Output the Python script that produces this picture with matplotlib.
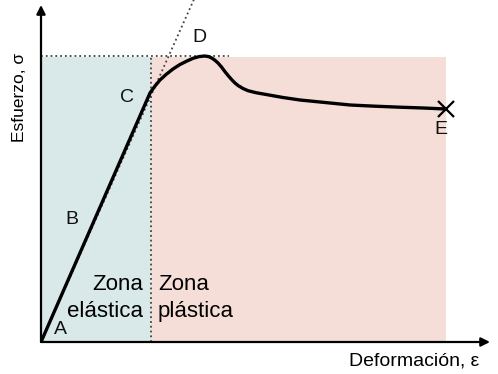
import matplotlib
matplotlib.use("Agg")
import matplotlib.pyplot as plt

plt.rcParams['font.family'] = ['Liberation Sans', 'DejaVu Sans']

# Stress-strain curve (arbitrary units)
strain = [0, 109, 114, 119, 125, 132, 139, 146, 152, 158, 164, 168, 171, 174, 177, 180.5,
          184, 187.5, 191, 194, 197, 202, 207, 215, 224, 242, 259, 284, 309, 334, 359, 382, 405]
stress = [0, 249, 256, 262, 267.5, 273, 277.5, 281, 283.7, 285.4, 286, 285.3, 283.8, 281.7,
          279, 275, 270.3, 266, 262, 259, 256.5, 253.5, 251.3, 249.3, 247.7, 244.5, 242,
          239.5, 237, 235.8, 234.8, 234, 233]

rupture = (405, 233)      # E
peak_stress = 286
elastic_limit = 110
plastic_end = 405
region_top = 285
elastic_slope = 2.24

label_pts = {"A": (19, 12), "B": (31, 122), "C": (86, 245), "D": (158, 304), "E": (400, 212)}

W, H = 498, 374
fig = plt.figure(figsize=(W / 100, H / 100), dpi=100)
ax = fig.add_axes([41 / W, (H - 342) / H, (490 - 41) / W, (342 - 5) / H])
ax.set_xlim(0, 449)
ax.set_ylim(0, 337)
for s in ax.spines.values():
    s.set_visible(False)
ax.set_xticks([])
ax.set_yticks([])

# regions
ax.fill_between([0, elastic_limit], 0, region_top, color='#d9e8e8', lw=0, zorder=0)
ax.fill_between([elastic_limit, plastic_end], 0, region_top, color='#f5ddd8', lw=0, zorder=0)

# dotted guides
ax.plot([0, 188], [peak_stress, peak_stress], ls=':', color='#444444', lw=1.3, zorder=1)
ax.plot([elastic_limit, elastic_limit], [0, peak_stress], ls=':', color='#444444', lw=1.3, zorder=1)
ax.plot([0, 345 / elastic_slope], [0, 345], ls=':', color='#444444', lw=1.3, zorder=1, clip_on=False)

# curve
ax.plot(strain, stress, color='black', lw=2.4, solid_capstyle='round',
        solid_joinstyle='round', zorder=3)
ax.plot([rupture[0]], [rupture[1]], marker='x', color='black', ms=12, mew=1.6, zorder=4)

# axes arrows
arrow = dict(arrowstyle='-|>', color='black', lw=1.6, mutation_scale=13, shrinkA=0, shrinkB=0)
ax.annotate('', xy=(449, 0), xytext=(0, 0), arrowprops=arrow, annotation_clip=False)
ax.annotate('', xy=(0, 337), xytext=(0, 0), arrowprops=arrow, annotation_clip=False)

for k, (x, y) in label_pts.items():
    ax.text(x, y, k, fontsize=14, ha='center', va='center', color='#111111')

ax.text(102, 52, "Zona", fontsize=16, ha='right', va='baseline')
ax.text(102, 25, "elástica", fontsize=16, ha='right', va='baseline')
ax.text(117, 52, "Zona", fontsize=16, ha='left', va='baseline')
ax.text(117, 25, "plástica", fontsize=16, ha='left', va='baseline')

fig.text(20 / W, 1 - 97 / H, "Esfuerzo, σ", rotation=90, fontsize=12.5, ha='center', va='center')
fig.text(414 / W, 1 - 361 / H, "Deformación, ε", fontsize=14, ha='center', va='center')

fig.savefig("out.png", dpi=100)
